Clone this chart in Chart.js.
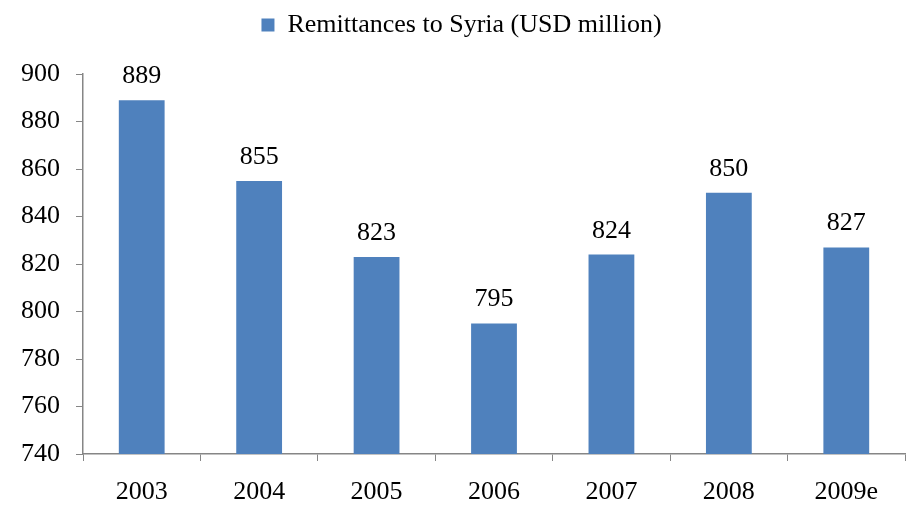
<!DOCTYPE html>
<html lang="en">
<head>
    <meta charset="UTF-8">
    <title>Remittances to Syria</title>
    <style>
        body { margin: 0; background: #fff; }
        #wrap { width: 912px; height: 506px; }
    </style>
</head>
<body>
    <div id="wrap"><canvas id="chart" width="912" height="506"></canvas></div>

    <script src="https://cdn.jsdelivr.net/npm/chart.js@4/dist/chart.umd.min.js"></script>
    <script>
        // data
        const years = ['2003', '2004', '2005', '2006', '2007', '2008', '2009e'];
        const remittances = [889, 855, 823, 795, 824, 850, 827];
        const yTicks = [740, 760, 780, 800, 820, 840, 860, 880, 900];

        const serif = '"Liberation Serif", "Times New Roman", serif';
        const axisGrey = '#868686';

        // writes the value over each bar
        const valueLabels = {
            id: 'valueLabels',
            afterDatasetsDraw(chart) {
                const ctx = chart.ctx;
                const meta = chart.getDatasetMeta(0);
                ctx.save();
                ctx.font = '26px ' + serif;
                ctx.fillStyle = '#000';
                ctx.textAlign = 'center';
                ctx.textBaseline = 'alphabetic';
                meta.data.forEach((bar, i) => {
                    ctx.fillText(remittances[i], bar.x, bar.y - 17);
                });
                ctx.restore();
            }
        };

        // extra room under the legend, and nudge it a little to the right
        const legendGap = {
            id: 'legendGap',
            beforeLayout(chart) {
                const lg = chart.legend;
                if (lg && !lg._gapWrapped) {
                    const fit = lg.fit;
                    lg.fit = function () {
                        fit.call(this);
                        this.height += 26;
                    };
                    lg._gapWrapped = true;
                }
            },
            afterLayout(chart) {
                const lg = chart.legend;
                if (lg) {
                    lg.left += 9;
                    lg.right += 9;
                }
            }
        };

        new Chart(document.getElementById('chart'), {
            type: 'bar',
            data: {
                labels: years,
                datasets: [{
                    label: 'Remittances to Syria (USD million)',
                    data: remittances,
                    backgroundColor: '#4F81BD',
                    categoryPercentage: 1,
                    barPercentage: 0.39
                }]
            },
            options: {
                responsive: false,
                animation: false,
                layout: { padding: { top: 4, right: 7, bottom: 0, left: 0 } },
                plugins: {
                    legend: {
                        position: 'top',
                        labels: {
                            font: { family: serif, size: 26 },
                            color: '#000',
                            boxWidth: 13,
                            boxHeight: 13,
                            padding: 8
                        }
                    },
                    tooltip: { enabled: false }
                },
                scales: {
                    x: {
                        grid: {
                            drawOnChartArea: false,
                            drawTicks: true,
                            tickLength: 7,
                            color: axisGrey
                        },
                        border: { color: axisGrey, width: 1.5 },
                        ticks: {
                            font: { family: serif, size: 26 },
                            color: '#000',
                            padding: 16
                        },
                        afterFit(scale) { scale.height = 52; }
                    },
                    y: {
                        min: 740,
                        max: 900,
                        afterBuildTicks(scale) {
                            scale.ticks = yTicks.map(v => ({ value: v }));
                        },
                        grid: {
                            drawOnChartArea: false,
                            drawTicks: true,
                            tickLength: 7,
                            color: axisGrey
                        },
                        border: { color: axisGrey, width: 1.5 },
                        ticks: {
                            font: { family: serif, size: 26 },
                            color: '#000',
                            padding: 16
                        },
                        afterFit(scale) { scale.width = 83; }
                    }
                }
            },
            plugins: [valueLabels, legendGap]
        });
    </script>
</body>
</html>
